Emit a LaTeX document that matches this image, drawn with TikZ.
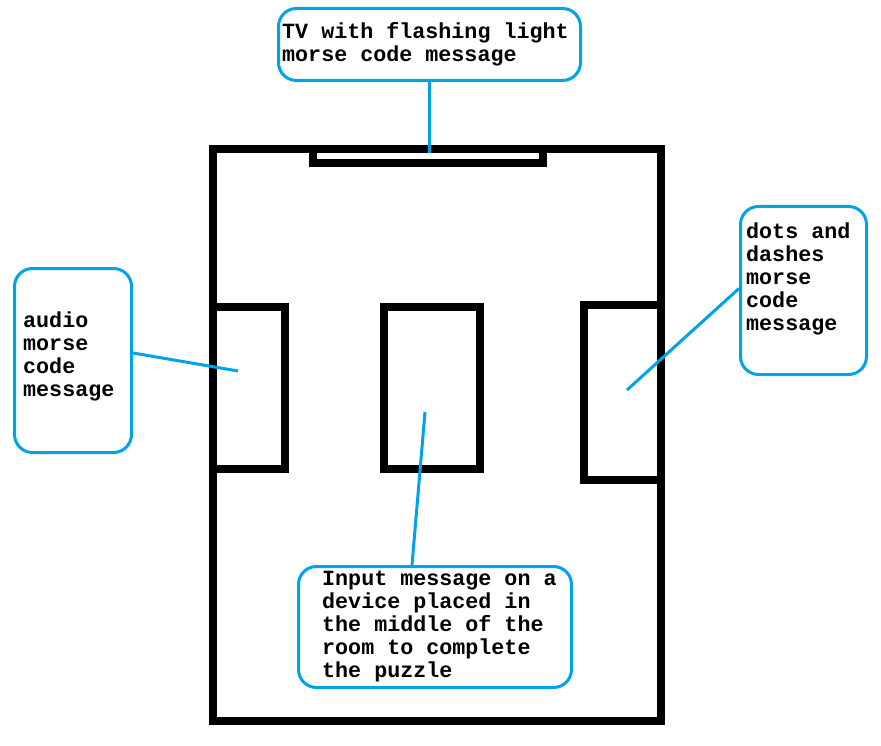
\documentclass[tikz,border=0pt]{standalone}
\usepackage{fontspec}
\setmonofont{Liberation Mono}
\definecolor{cblue}{RGB}{0,162,232}
\tikzset{
  wall/.style={draw=black, line width=7.5pt, line join=miter},
  callout/.style={draw=cblue, line width=3pt, rounded corners=18pt, inner sep=0pt},
  link/.style={draw=cblue, line width=3pt},
  lbl/.style={font=\ttfamily\bfseries\fontsize{21.7}{23}\selectfont, align=left, anchor=base west, inner sep=0pt}
}
\begin{document}
\begin{tikzpicture}[x=1pt,y=-1pt]
\useasboundingbox (0,0) rectangle (881,746);
% room and furniture
\draw[wall] (213,149) rectangle (661,721);
\draw[wall] (313,149) rectangle (543,163);
\draw[wall] (213,307) rectangle (285,469);
\draw[wall] (384,307) rectangle (480,469);
\draw[wall] (584,305) rectangle (661,480);
% callout boxes
\node[callout, minimum width=302pt, minimum height=72pt] (tvbox) at (429.5,44.5) {};
\node[callout, minimum width=117pt, minimum height=184pt] (audiobox) at (73,360.5) {};
\node[callout, minimum width=126pt, minimum height=168pt] (dotsbox) at (803.5,290.5) {};
\node[callout, minimum width=273pt, minimum height=121pt] (inputbox) at (435,627) {};
% texts (anchored at the baseline of the last line)
\node[lbl] (tvtext) at (282,62) {TV with flashing light\\morse code message};
\node[lbl] (audiotext) at (23,396) {audio\\morse\\code\\message};
\node[lbl] (dotstext) at (746,330) {dots and\\dashes\\morse\\code\\message};
\node[lbl] (inputtext) at (322,677) {Input message on a\\device placed in\\the middle of the\\room to complete\\the puzzle};
% connector ends
\coordinate (tvend) at (429.5,153);
\coordinate (audioend) at (238,371);
\coordinate (dotsend) at (627,390);
\coordinate (inputend) at (425,412);
\draw[link] (tvbox.south) -- (tvend);
\draw[link] ([yshift=7.5pt]audiobox.east) -- (audioend);
\draw[link] ([yshift=2pt]dotsbox.west) -- (dotsend);
\draw[link] ([xshift=-23pt]inputbox.north) -- (inputend);
\end{tikzpicture}
\end{document}
